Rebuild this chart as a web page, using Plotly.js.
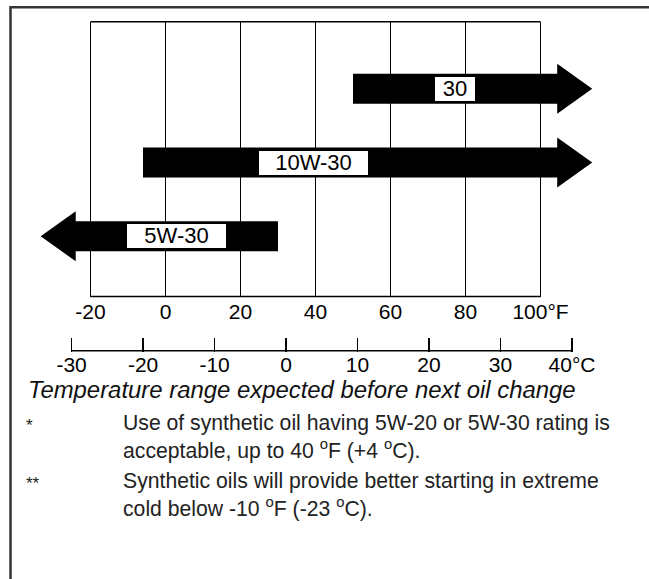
<!DOCTYPE html>
<html><head><meta charset="utf-8">
<script src="https://cdn.plot.ly/plotly-3.0.1.min.js"></script>
<style>html,body{margin:0;padding:0;background:#fff;overflow:hidden;} #chart{width:649px;height:579px;}</style>
</head><body><div id="chart"></div>
<script>
// ---- data ----
const grades = ['30', '10W-30', '5W-30'];
const lowF  = [50, -6, null];   // null = no lower limit (arrow to the left)
const highF = [null, null, 30]; // null = no upper limit (arrow to the right)
const fTicks = [-20, 0, 20, 40, 60, 80, 100];
const fTickText = ['-20', '0', '20', '40', '60', '80', '100°F'];
const cTicks = [-30, -20, -10, 0, 10, 20, 30, 40];
const cTickText = ['-30', '-20', '-10', '0', '10', '20', '30', '40°C'];
const caption = 'Temperature range expected before next oil change';
const noteMarks = ['*', '**'];
const noteTexts = [
  'Use of synthetic oil having 5W-20 or 5W-30 rating is<br>acceptable, up to 40 <sup>o</sup>F (+4 <sup>o</sup>C).',
  'Synthetic oils will provide better starting in extreme<br>cold below -10 <sup>o</sup>F (-23 <sup>o</sup>C).'
];

// ---- geometry / style ----
const W = 649, H = 579;
const gridL = 90.5, pxPerF = 3.75, gridTop = 21.7, gridBot = 296.5;
const plotL = 20, plotR = 610;
const rowTop = 88.8, rowStep = 73.75;
const fAt = px => fTicks[0] + (px - gridL) / pxPerF;
const xRange = [fAt(plotL), fAt(plotR)];
const yRange = [(gridBot - rowTop) / rowStep, (gridTop - rowTop) / rowStep];
const yDom = [1 - gridBot / H, 1 - gridTop / H];
const bodyHalf = 15 / rowStep, headHalf = 25 / rowStep, headLen = 35 / pxPerF;
const tipRight = fAt(592.2), tipLeft = fAt(40.7);
const labelXF = [77.2, 39.5, 2.9];
const labelW = [40, 109, 99], labelH = 23.5;
const cLineY = 350.7, cTickLen = 14;
const cTickTop = cLineY - cTickLen;
const FONT = 'Arial, "Liberation Sans", Helvetica, sans-serif';

const traces = grades.map((g, i) => {
  const y = i;
  let xs;
  if (highF[i] === null) {
    const lo = lowF[i], b = tipRight - headLen;
    xs = [lo, b, b, tipRight, b, b, lo, lo];
  } else {
    const hi = highF[i], b = tipLeft + headLen;
    xs = [hi, b, b, tipLeft, b, b, hi, hi];
  }
  const ys = [y - bodyHalf, y - bodyHalf, y - headHalf, y, y + headHalf, y + bodyHalf, y + bodyHalf, y - bodyHalf];
  return {type: 'scatter', mode: 'lines', x: xs, y: ys, fill: 'toself', fillcolor: '#000',
          line: {width: 0, color: '#000'}, hoverinfo: 'skip', showlegend: false, name: g};
});
traces.push({type: 'scatter', mode: 'markers', x: cTicks, y: cTicks.map(() => null), xaxis: 'x2', yaxis: 'y2',
             hoverinfo: 'skip', showlegend: false});

const annotations = grades.map((g, i) => ({
  x: labelXF[i], y: i, xref: 'x', yref: 'y', text: g, showarrow: false,
  bgcolor: '#fff', borderpad: 0, borderwidth: 0, width: labelW[i], height: labelH,
  font: {family: FONT, size: 22, color: '#000'}, xanchor: 'center', yanchor: 'middle'
}));
annotations.push({x: 26 / W, y: 1 - 389.5 / H, xref: 'paper', yref: 'paper', xanchor: 'left', yanchor: 'middle',
  text: '<i>' + caption + '</i>', showarrow: false, font: {family: FONT, size: 23.9, color: '#111'}});
const noteY = [437, 495];
noteTexts.forEach((t, i) => {
  annotations.push({x: 121 / W, y: 1 - noteY[i] / H, xref: 'paper', yref: 'paper', xanchor: 'left', yanchor: 'middle',
    align: 'left', text: t, showarrow: false, font: {family: FONT, size: 21.2, color: '#222'}});
  annotations.push({x: 24 / W, y: 1 - (noteY[i] - 12) / H, xref: 'paper', yref: 'paper', xanchor: 'left', yanchor: 'middle',
    text: noteMarks[i], showarrow: false, font: {family: FONT, size: 17, color: '#222'}});
});

const shapes = [
  {type: 'line', xref: 'x', yref: 'paper', x0: fTicks[0], x1: fTicks[fTicks.length - 1], y0: yDom[1], y1: yDom[1], line: {color: '#000', width: 1.6}},
  {type: 'line', xref: 'x', yref: 'paper', x0: fTicks[0], x1: fTicks[fTicks.length - 1], y0: yDom[0], y1: yDom[0], line: {color: '#000', width: 1.6}},
  {type: 'line', xref: 'x2', yref: 'paper', x0: cTicks[0], x1: cTicks[cTicks.length - 1], y0: 1 - cLineY / H, y1: 1 - cLineY / H, line: {color: '#000', width: 1.6}},
  {type: 'line', xref: 'paper', yref: 'paper', x0: 10.5 / W, x1: 1, y0: 1 - 7.2 / H, y1: 1 - 7.2 / H, line: {color: '#333', width: 2.5}},
  {type: 'line', xref: 'paper', yref: 'paper', x0: 10.5 / W, x1: 10.5 / W, y0: 0, y1: 1 - 6 / H, line: {color: '#333', width: 2.5}}
];

const layout = {
  width: W, height: H, margin: {l: 0, r: 0, t: 0, b: 0}, paper_bgcolor: '#fff', plot_bgcolor: '#fff',
  showlegend: false,
  xaxis: {domain: [plotL / W, plotR / W], range: xRange, tickmode: 'array', tickvals: fTicks, ticktext: fTickText,
          showgrid: true, gridcolor: '#000', gridwidth: 1.6, zeroline: false, showline: false, ticks: '',
          tickfont: {family: FONT, size: 21, color: '#000'}, fixedrange: true},
  xaxis2: {domain: [71.6 / W, 572 / W], range: [cTicks[0], cTicks[cTicks.length - 1]], anchor: 'y2',
           tickmode: 'array', tickvals: cTicks, ticktext: cTickText,
           showline: false, ticks: 'outside', ticklen: cTickLen, tickwidth: 1.6, ticklabelstandoff: -5,
           tickcolor: '#000', showgrid: false, zeroline: false,
           tickfont: {family: FONT, size: 21, color: '#000'}, fixedrange: true},
  yaxis: {domain: yDom, range: yRange, visible: false, fixedrange: true},
  yaxis2: {domain: [1 - cTickTop / H, 1 - (cTickTop - 6) / H], range: [0, 1], anchor: 'x2', visible: false, fixedrange: true},
  annotations: annotations, shapes: shapes
};
Plotly.newPlot('chart', traces, layout, {staticPlot: true});
</script></body></html>
